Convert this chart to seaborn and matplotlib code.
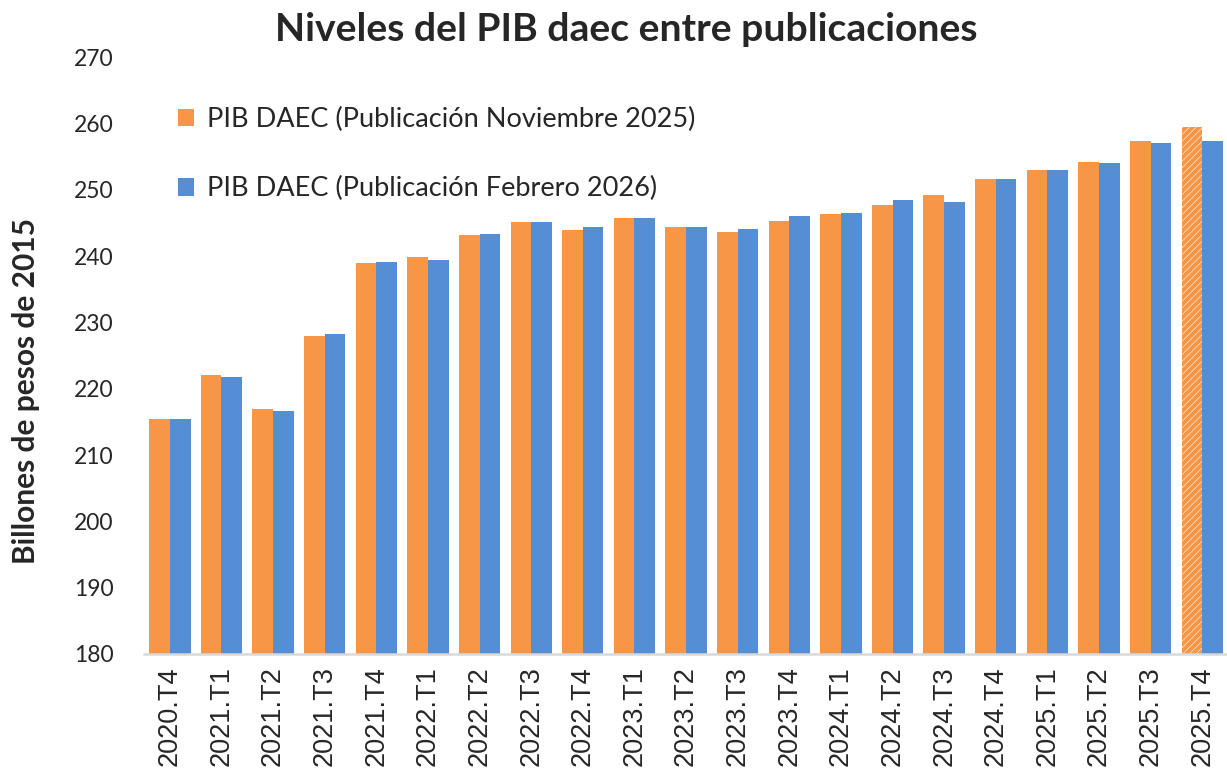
import matplotlib
matplotlib.use("Agg")
import matplotlib.pyplot as plt
import seaborn as sns
import pandas as pd

# trimestres
trimestres = ["2020.T4", "2021.T1", "2021.T2", "2021.T3", "2021.T4",
              "2022.T1", "2022.T2", "2022.T3", "2022.T4",
              "2023.T1", "2023.T2", "2023.T3", "2023.T4",
              "2024.T1", "2024.T2", "2024.T3", "2024.T4",
              "2025.T1", "2025.T2", "2025.T3", "2025.T4"]

# PIB daec, billones de pesos de 2015
pib_nov_2025 = [215.4, 222.0, 216.9, 228.0, 238.9,
                239.8, 243.2, 245.1, 243.9,
                245.8, 244.4, 243.6, 245.3,
                246.3, 247.7, 249.2, 251.7,
                253.0, 254.2, 257.3, 259.4]
pib_feb_2026 = [215.4, 221.7, 216.6, 228.3, 239.1,
                239.4, 243.4, 245.1, 244.4,
                245.8, 244.4, 244.1, 246.0,
                246.5, 248.4, 248.2, 251.7,
                253.0, 254.0, 257.1, 257.3]

serie_nov = "PIB DAEC (Publicación Noviembre 2025)"
serie_feb = "PIB DAEC (Publicación Febrero 2026)"

df = pd.DataFrame({
    "trimestre": trimestres * 2,
    "valor": pib_nov_2025 + pib_feb_2026,
    "serie": [serie_nov] * len(trimestres) + [serie_feb] * len(trimestres),
})

naranja = "#F79646"
azul = "#558ED5"

sns.set_style("white")
plt.rcParams["font.family"] = ["Lato", "DejaVu Sans"]
plt.rcParams["hatch.linewidth"] = 3

fig = plt.figure(figsize=(12.27, 7.73), dpi=100)
ax = fig.add_axes([0.1174, 0.154, 0.8826, 0.772])

sns.barplot(data=df, x="trimestre", y="valor", hue="serie",
            palette=[naranja, azul], width=0.8, ax=ax,
            linewidth=0, saturation=1)

# ultimo trimestre de la publicacion de noviembre: proyeccion (rayado)
ult = ax.containers[0][len(trimestres) - 1]
ult.set_facecolor("white")
ult.set_edgecolor(naranja)
ult.set_linewidth(0)
ult.set_hatch("/////")

ax.set_ylim(180, 270)
ax.set_xlim(-0.5, 20.48)
ax.set_yticks(range(180, 271, 10))

for s in ["top", "right", "left"]:
    ax.spines[s].set_visible(False)
ax.spines["bottom"].set_color("#D9D9D9")
ax.spines["bottom"].set_linewidth(1.8)

ax.tick_params(axis="y", length=0, pad=22, labelsize=16.5)
ax.tick_params(axis="x", length=0, pad=9)
for lbl in ax.get_xticklabels():
    lbl.set_rotation(90)
    lbl.set_fontfamily("Liberation Sans")
    lbl.set_fontsize(19.5)

ax.set_xlabel("")
ax.set_ylabel("Billones de pesos de 2015", fontsize=21.5, fontweight="bold")
ax.yaxis.set_label_coords(-0.096, 0.44)

fig.suptitle("Niveles del PIB daec entre publicaciones", fontsize=28.2,
             fontweight="bold", x=0.51, y=0.985)

handles, labels = ax.get_legend_handles_labels()
ax.legend(handles, labels, loc="upper left", bbox_to_anchor=(0.019, 0.939),
          frameon=False, fontsize=19.5, handlelength=0.6, handleheight=0.6,
          handletextpad=0.45, labelspacing=1.63, borderpad=0)

fig.savefig("out.png", dpi=100)
